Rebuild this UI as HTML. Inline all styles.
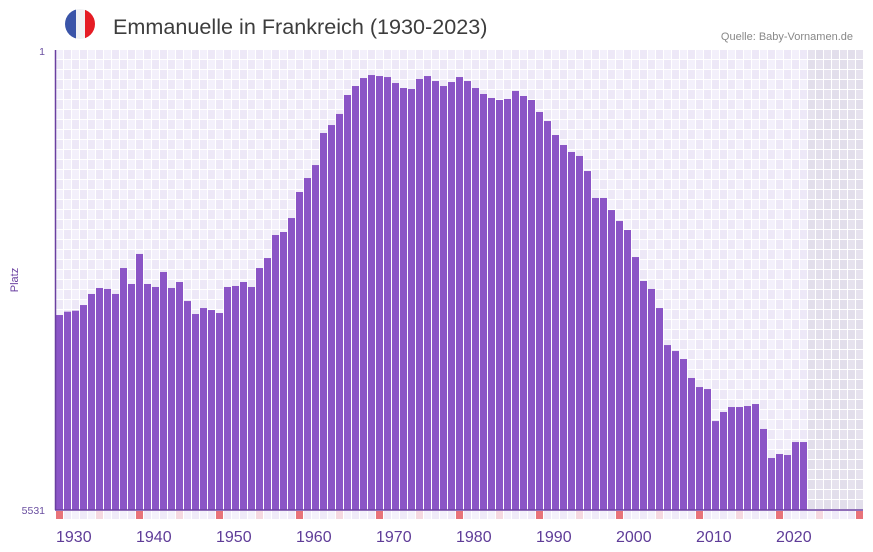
<!DOCTYPE html>
<html><head><meta charset="utf-8">
<style>
body{margin:0;background:#fff;width:873px;height:552px;overflow:hidden;font-family:"Liberation Sans",sans-serif;}
svg{display:block}
</style></head>
<body>
<svg id="chart" width="873" height="552" viewBox="0 0 873 552">
  <g>
    <clipPath id="fc"><circle cx="80" cy="24" r="15"/></clipPath>
    <g clip-path="url(#fc)">
      <rect x="65" y="9" width="11" height="30" fill="#3a54a8"/>
      <rect x="76" y="9" width="9" height="30" fill="#f1f2f4"/>
      <rect x="85" y="9" width="11" height="30" fill="#e51c24"/>
    </g>
  </g>
  <text x="113" y="34" font-size="21.6" fill="#3d3d3d">Emmanuelle in Frankreich (1930-2023)</text>
  <text x="853" y="40" font-size="11" fill="#888" text-anchor="end">Quelle: Baby-Vornamen.de</text>
  <text x="18" y="280" font-size="11" fill="#6a3fa0" text-anchor="middle" transform="rotate(-90 18 280)">Platz</text>
  <text x="45" y="55" font-size="10.5" fill="#6a4fa0" text-anchor="end">1</text>
  <text x="45" y="514" font-size="10.5" fill="#6a4fa0" text-anchor="end">5531</text>
  <g id="grid"></g>
  <g id="bars"></g>
  <g id="marks"></g>
  <g id="xlabels"></g>
  <line x1="55.5" y1="50" x2="55.5" y2="510" stroke="#6a3fa0" stroke-width="1.5"/>
  <line x1="55" y1="510" x2="863" y2="510" stroke="#6a3fa0" stroke-width="1.5"/>
</svg>
<script>
const years = [];
for (let y = 1930; y <= 2023; y++) years.push(y);
const ranks = [3187,3147,3135,3067,2934,2862,2874,2934,2622,2814,2453,2814,2850,2670,2862,2790,3019,3175,3103,3127,3163,2850,2838,2790,2850,2622,2502,2225,2189,2021,1708,1540,1384,999,903,770,542,434,338,302,314,326,398,458,470,350,314,374,434,386,326,374,458,530,578,602,590,494,554,602,746,855,1023,1143,1227,1275,1456,1780,1780,1925,2057,2165,2490,2778,2874,3103,3548,3620,3716,3944,4053,4077,4462,4353,4293,4293,4281,4257,4557,4906,4858,4870,4714,4714];
const xTicks = [1930,1940,1950,1960,1970,1980,1990,2000,2010,2020];
const X0 = 55, BW = 8, TOP = 50, BOT = 510, RMAX = 5531, Y0 = 1930, YEND = 2031;
function xs(yr){ return X0 + (yr - Y0) * BW; }
function ys(r){ return TOP + (r - 1) / (RMAX - 1) * (BOT - TOP); }
const NS = "http://www.w3.org/2000/svg";
function mk(t, a){ const e = document.createElementNS(NS, t); for (const k in a) e.setAttribute(k, a[k]); return e; }
const grid = document.getElementById('grid');
const bg = mk('rect', {x:55, y:50, width:808, height:460, fill:'#ffffff'});


grid.appendChild(bg);
for (let yr = Y0; yr < YEND; yr++) {
  const future = yr > 2023;
  for (let r = 0; r < 46; r++) {
    const c = future ? ((yr + r) % 2 ? '#e2deeb' : '#e6e2ee') : ((yr + r) % 2 ? '#ede8f7' : '#f3f0fb');
    grid.appendChild(mk('rect', {x: xs(yr) + 1, y: 50 + r * 10, width: 7, height: 9, fill: c}));
  }
}
const bars = document.getElementById('bars');
years.forEach((yr, i) => {
  const y = ys(ranks[i]);
  const b = mk('rect', {x: xs(yr) + 1, y: y, width: 7, height: BOT - y, fill: '#8b55c6'});
  
  
  bars.appendChild(b);
});
const marks = document.getElementById('marks');
for (let yr = Y0; yr < YEND; yr++) {
  const c = yr % 10 === 0 ? '#e8737a' : (yr % 5 === 0 ? '#f5d8e0' : (yr % 2 ? '#efeaf8' : '#f4f1fb'));
  const m = mk('rect', {x: xs(yr) + 1, y: 511, width: 7, height: 8, fill: c});
  
  
  marks.appendChild(m);
}
const xl = document.getElementById('xlabels');
xTicks.forEach(t => {
  const tx = mk('text', {x: xs(t) + 1, y: 542, 'font-size': 16, fill: '#5f3c98'});
  tx.textContent = t;
  
  
  xl.appendChild(tx);
});
</script>
</body></html>
